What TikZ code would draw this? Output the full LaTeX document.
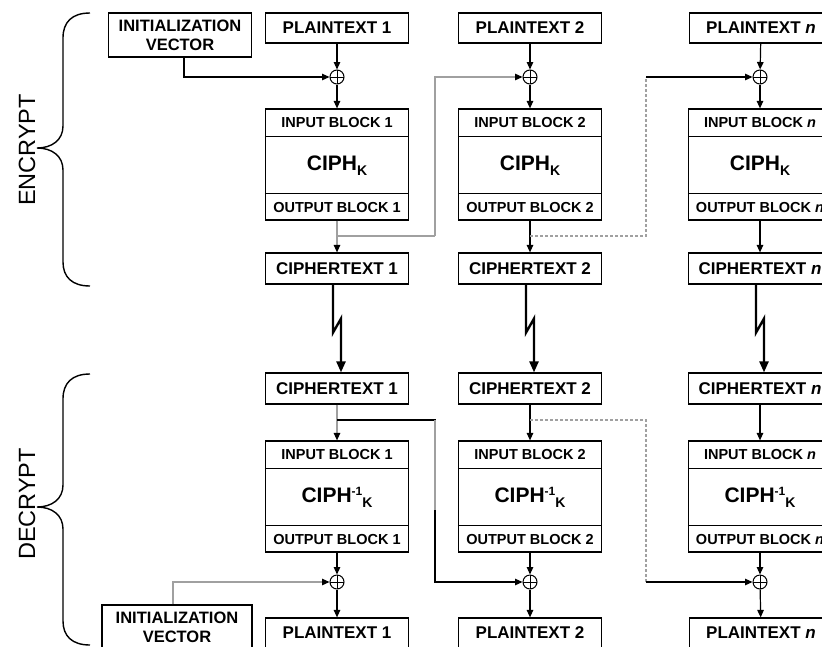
\documentclass[tikz,border=0pt]{standalone}
\usepackage{fontspec}
\setmainfont{Liberation Sans}
\usetikzlibrary{arrows.meta,calc}
\definecolor{lgray}{HTML}{A0A0A0}

% one cipher block: name, centre x, top y, input label, core label, output label
\newcommand\ciphblk[6]{%
  \node[cbox] (#1) at ({#2},{#3+55.5}) {};
  \draw[bline] ($(#1.north west)+(0,28)$) -- ($(#1.north east)+(0,28)$);
  \draw[bline] ($(#1.south west)+(0,-27)$) -- ($(#1.south east)+(0,-27)$);
  \node[smalltxt] (#1in) at ($(#1.north)+(0,14)$) {#4};
  \node[coretxt] (#1core) at ($(#1.center)+(0,1)$) {#5};
  \node[smalltxt] (#1out) at ($(#1.south)+(0,-13.5)$) {#6};
}
\newcommand\encK{CIPH\raisebox{-5pt}{\fontsize{14}{14}\selectfont K}}
\newcommand\decK{CIPH\raisebox{7pt}{\fontsize{12}{12}\selectfont -1}\raisebox{-5pt}{\fontsize{14}{14}\selectfont K}}

\begin{document}
\begin{tikzpicture}[x=1pt,y=-1pt,
  bline/.style={line width=1.2pt},
  box/.style={draw, line width=1.2pt, minimum width=143pt, minimum height=30pt,
    inner sep=0pt, align=center, font=\fontsize{17}{18}\selectfont\bfseries},
  ivbox/.style={box, minimum height=44pt, font=\fontsize{16.5}{19}\selectfont\bfseries},
  cbox/.style={draw, line width=1.2pt, minimum width=143pt, minimum height=111pt, inner sep=0pt},
  smalltxt/.style={inner sep=0pt, font=\fontsize{14.5}{15}\selectfont\bfseries},
  coretxt/.style={inner sep=0pt, font=\fontsize{21}{22}\selectfont\bfseries},
  xor/.style={draw, circle, line width=1pt, minimum size=14pt, inner sep=0pt,
    path picture={\draw[line width=1pt] (path picture bounding box.north) -- (path picture bounding box.south)
      (path picture bounding box.west) -- (path picture bounding box.east);}},
  arr/.style={line width=1.2pt, -{Triangle[width=6.5pt,length=7.5pt]}},
  garr/.style={line width=1.2pt, draw=lgray, -{Triangle[width=6.5pt,length=7.5pt,color=black]}},
  gline/.style={line width=1.2pt, draw=lgray},
  dline/.style={line width=1.2pt, draw=lgray, dash pattern=on 3pt off 2pt},
  bolt/.style={line width=2.4pt, miter limit=10, -{Triangle[width=9pt,length=11pt]}},
  brace/.style={line width=1.4pt},
  side/.style={rotate=90, inner sep=0pt, font=\fontsize{23.5}{24}\selectfont}
]
\clip (0,0) rectangle (822,646);

% ---------------- encryption ----------------
\node[ivbox] (iv1) at (180,35) {INITIALIZATION\\VECTOR};
\node[box] (pt1e) at (337,28) {PLAINTEXT 1};
\node[box] (pt2e) at (530,28) {PLAINTEXT 2};
\node[box] (ptne) at (761,28) {PLAINTEXT \textit{n}};

\node[xor] (x1e) at (337,77) {};
\node[xor] (x2e) at (530,77) {};
\node[xor] (xne) at (760,77) {};

\ciphblk{c1e}{337}{109}{INPUT BLOCK 1}{\encK}{OUTPUT BLOCK 1}
\ciphblk{c2e}{530}{109}{INPUT BLOCK 2}{\encK}{OUTPUT BLOCK 2}
\ciphblk{cne}{760}{109}{INPUT BLOCK \textit{n}}{\encK}{OUTPUT BLOCK \textit{n}}

\node[box, minimum height=31pt] (ct1e) at (337,268.5) {CIPHERTEXT 1};
\node[box, minimum height=31pt] (ct2e) at (530,268.5) {CIPHERTEXT 2};
\node[box, minimum height=31pt] (ctne) at (760,268.5) {CIPHERTEXT \textit{n}};

\draw[arr] (pt1e) -- (x1e);
\draw[arr] (pt2e) -- (x2e);
\draw[arr] (ptne) -- (xne);
\draw[arr] (x1e) -- (c1e);
\draw[arr] (x2e) -- (c2e);
\draw[arr] (xne) -- (cne);
\draw[arr] ([xshift=4pt]iv1.south) |- (x1e.west);

\draw[garr] (c1e) -- (ct1e);
\draw[arr] (c2e) -- (ct2e);
\draw[arr] (cne) -- (ctne);

% chaining of the output blocks
\coordinate (b1e) at (337,236);
\coordinate (k1e) at (435,236);
\draw[gline] (b1e) -- (k1e);
\draw[garr] (k1e) |- (x2e.west);
\coordinate (b2e) at (530,236);
\coordinate (k2e) at (646,236);
\coordinate (k3e) at (646,77);
\draw[dline] (b2e) -- (k2e) -- (k3e);
\draw[arr] (k3e) -- (xne.west);

% ---------------- transmission ----------------
\node[box, minimum height=31pt] (ct1d) at (337,388.5) {CIPHERTEXT 1};
\node[box, minimum height=31pt] (ct2d) at (530,388.5) {CIPHERTEXT 2};
\node[box, minimum height=31pt] (ctnd) at (760,388.5) {CIPHERTEXT \textit{n}};

\draw[bolt] ([xshift=-4pt]ct1e.south) -- ++(0,48) -- ++(8,-14) -- ([xshift=4pt]ct1d.north);
\draw[bolt] ([xshift=-4pt]ct2e.south) -- ++(0,48) -- ++(8,-14) -- ([xshift=4pt]ct2d.north);
\draw[bolt] ([xshift=-4pt]ctne.south) -- ++(0,48) -- ++(8,-14) -- ([xshift=4pt]ctnd.north);

% ---------------- decryption ----------------
\ciphblk{c1d}{337}{441}{INPUT BLOCK 1}{\decK}{OUTPUT BLOCK 1}
\ciphblk{c2d}{530}{441}{INPUT BLOCK 2}{\decK}{OUTPUT BLOCK 2}
\ciphblk{cnd}{760}{441}{INPUT BLOCK \textit{n}}{\decK}{OUTPUT BLOCK \textit{n}}

\node[xor] (x1d) at (337,582) {};
\node[xor] (x2d) at (530,582) {};
\node[xor] (xnd) at (760,582) {};

\node[ivbox, minimum width=150pt] (iv2) at (177,627) {INITIALIZATION\\VECTOR};
\node[box] (pt1d) at (337,633) {PLAINTEXT 1};
\node[box] (pt2d) at (530,633) {PLAINTEXT 2};
\node[box] (ptnd) at (761,633) {PLAINTEXT \textit{n}};

\draw[garr] (ct1d) -- (c1d);
\draw[arr] (ct2d) -- (c2d);
\draw[arr] (ctnd) -- (cnd);
\draw[arr] (c1d) -- (x1d);
\draw[arr] (c2d) -- (x2d);
\draw[arr] (cnd) -- (xnd);
\draw[arr] (x1d) -- (pt1d);
\draw[arr] (x2d) -- (pt2d);
\draw[arr] (xnd) -- (ptnd);
\draw[garr] ([xshift=-4pt]iv2.north) |- (x1d.west);

% chaining of the ciphertext blocks
\coordinate (b1d) at (337,420);
\coordinate (k1d) at (435,420);
\coordinate (m1d) at (435,510);
\draw[arr] (b1d) -- (k1d) |- (x2d.west);
\draw[gline] (k1d) -- (m1d);
\coordinate (b2d) at (530,420);
\coordinate (k2d) at (646,420);
\coordinate (k3d) at (646,582);
\draw[dline] (b2d) -- (k2d) -- (k3d);
\draw[arr] (k3d) -- (xnd.west);

% ---------------- side braces ----------------
\draw[brace] (90,13) .. controls (72,13) and (63,22) .. (63,38) -- (63,126)
  .. controls (63,140) and (52,148) .. (37,148)
  .. controls (52,148) and (63,156) .. (63,170) -- (63,262)
  .. controls (63,277) and (72,286) .. (90,286);
\node[side] (enc) at (27,150) {ENCRYPT};

\draw[brace] (90,374) .. controls (72,374) and (63,383) .. (63,399) -- (63,485)
  .. controls (63,499) and (52,507) .. (37,507)
  .. controls (52,507) and (63,515) .. (63,529) -- (63,621)
  .. controls (63,636) and (72,645) .. (90,645);
\node[side] (dec) at (27,504) {DECRYPT};
\end{tikzpicture}
\end{document}
